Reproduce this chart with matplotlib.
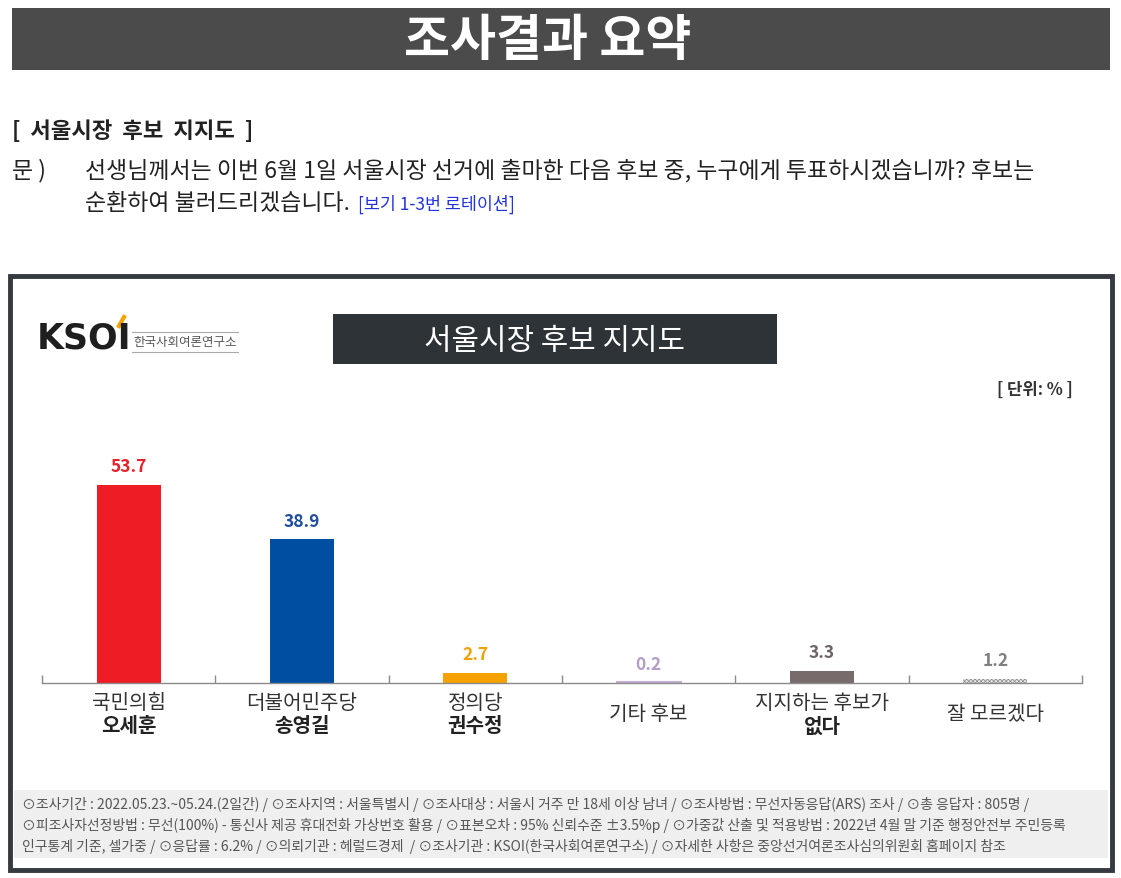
import matplotlib.pyplot as plt
import matplotlib.transforms as mtransforms
from matplotlib.patches import Rectangle
from matplotlib.lines import Line2D

plt.rcParams['font.family'] = ['Noto Sans CJK KR', 'DejaVu Sans']
plt.rcParams['hatch.linewidth'] = 0.5

# data
first_lines = ['국민의힘', '더불어민주당', '정의당', '기타 후보', '지지하는 후보가', '잘 모르겠다']
second_lines = ['오세훈', '송영길', '권수정', '', '없다', '']
values = [53.7, 38.9, 2.7, 0.2, 3.3, 1.2]
bar_colors = ['#ee1c25', '#004ea2', '#f5a200', '#c4aed6', '#776b6c', '#e6e6e6']
label_colors = ['#e8202a', '#1f4e9c', '#f0a000', '#b49cc8', '#6e6466', '#7f7f7f']

footer_lines = [
    '⊙조사기간 : 2022.05.23.~05.24.(2일간) / ⊙조사지역 : 서울특별시 / ⊙조사대상 : 서울시 거주 만 18세 이상 남녀 / '
    '⊙조사방법 : 무선자동응답(ARS) 조사 / ⊙총 응답자 : 805명 /',
    '⊙피조사자선정방법 : 무선(100%) - 통신사 제공 휴대전화 가상번호 활용 / ⊙표본오차 : 95% 신뢰수준 ±3.5%p / '
    '⊙가중값 산출 및 적용방법 : 2022년 4월 말 기준 행정안전부 주민등록',
    '인구통계 기준, 셀가중 / ⊙응답률 : 6.2% / ⊙의뢰기관 : 헤럴드경제  / ⊙조사기관 : KSOI(한국사회여론연구소) / '
    '⊙자세한 사항은 중앙선거여론조사심의위원회 홈페이지 참조',
]

W, H = 1121, 879
fig = plt.figure(figsize=(W / 100, H / 100), dpi=100)


def fx(x):
    return x / W


def fy(y):
    return 1 - y / H


def box(x0, y0, x1, y1, **kw):
    fig.patches.append(Rectangle((fx(x0), fy(y1)), fx(x1) - fx(x0), fy(y0) - fy(y1),
                                 transform=fig.transFigure, zorder=-1, **kw))


# top banner
box(12, 9, 1110, 71, facecolor='#4b4b4b', edgecolor='none')
fig.text(fx(548), fy(41), '조사결과 요약', color='white', fontsize=36, fontweight='bold',
         ha='center', va='center')

# question
fig.text(fx(12), fy(131), '[  서울시장  후보  지지도  ]', fontsize=16, fontweight='bold',
         color='#222222', va='center')
fig.text(fx(12), fy(171), '문 )', fontsize=16.5, color='#222222', va='center')
fig.text(fx(85), fy(171), '선생님께서는 이번 6월 1일 서울시장 선거에 출마한 다음 후보 중, 누구에게 투표하시겠습니까? 후보는',
         fontsize=16.5, color='#222222', va='center')
fig.text(fx(85), fy(204), '순환하여 불러드리겠습니다.', fontsize=16.5, color='#222222', va='center')
fig.text(fx(358), fy(204), '[보기 1-3번 로테이션]', fontsize=12.5, color='#2233dd', va='center')

# chart frame
box(10, 277, 1112, 871, facecolor='white', edgecolor='#353a40', linewidth=3.5)

# logo
fig.text(fx(37), fy(339), 'KSOI', fontsize=25, fontweight='heavy', color='#1e1e1e',
         family='DejaVu Sans', va='center')
fig.lines.append(Line2D([fx(119), fx(124)], [fy(327), fy(318)], transform=fig.transFigure,
                        color='#f5a200', linewidth=3))
fig.lines.append(Line2D([fx(132), fx(238)], [fy(333), fy(333)], transform=fig.transFigure,
                        color='#aaaaaa', linewidth=0.8))
fig.lines.append(Line2D([fx(132), fx(238)], [fy(353), fy(353)], transform=fig.transFigure,
                        color='#aaaaaa', linewidth=0.8))
fig.text(fx(185), fy(343), '한국사회여론연구소', fontsize=9, color='#555555', ha='center', va='center')

# chart title
box(333, 315, 777, 365, facecolor='#2e3338', edgecolor='none')
fig.text(fx(555), fy(341), '서울시장 후보 지지도', fontsize=21.5, color='white', ha='center', va='center')
fig.text(fx(1073), fy(390), '[ 단위: % ]', fontsize=12, fontweight='bold', color='#333333',
         ha='right', va='center')

# bars
ax = fig.add_axes([fx(42), fy(684), fx(1082) - fx(42), fy(407) - fy(684)])
ax.set_zorder(5)
ax.patch.set_visible(False)
ax.set_xlim(-0.5, len(values) - 0.5)
ax.set_ylim(0, 75)
x = range(len(values))
bars = ax.bar(x, values, width=0.37, color=bar_colors, linewidth=0)
bars[3].set_edgecolor(bar_colors[3])
bars[3].set_linewidth(1.5)
bars[5].set_hatch('xxxxxxxx')
bars[5].set_edgecolor('#8c8c8c')
for i, v in enumerate(values):
    ax.annotate(f'{v:.1f}', (i, v), xytext=(0, 7), textcoords='offset points',
                ha='center', va='bottom', fontsize=12.5, fontweight='bold', color=label_colors[i])

for s in ['top', 'left', 'right']:
    ax.spines[s].set_visible(False)
ax.spines['bottom'].set_color('#8a8a8a')
ax.spines['bottom'].set_linewidth(1)
ax.set_yticks([])
ax.set_xticks([i - 0.5 for i in range(len(values) + 1)])
ax.set_xticklabels([])
ax.tick_params(axis='x', direction='in', length=6, color='#8a8a8a', width=1)

trans = mtransforms.blended_transform_factory(ax.transData, fig.transFigure)
for i in x:
    if second_lines[i]:
        ax.text(i, fy(704), first_lines[i], transform=trans, ha='center', va='center',
                fontsize=14.5, color='#333333')
        ax.text(i, fy(726), second_lines[i], transform=trans, ha='center', va='center',
                fontsize=14.5, fontweight='bold', color='#222222')
    else:
        ax.text(i, fy(715), first_lines[i], transform=trans, ha='center', va='center',
                fontsize=14.5, color='#333333')

# footer
box(14, 791, 1108, 859, facecolor='#efefef', edgecolor='none')
for k, line in enumerate(footer_lines):
    fig.text(fx(22), fy(805 + k * 20.5), line, fontsize=10, color='#555555', va='center')

fig.savefig('out.png', dpi=100)
